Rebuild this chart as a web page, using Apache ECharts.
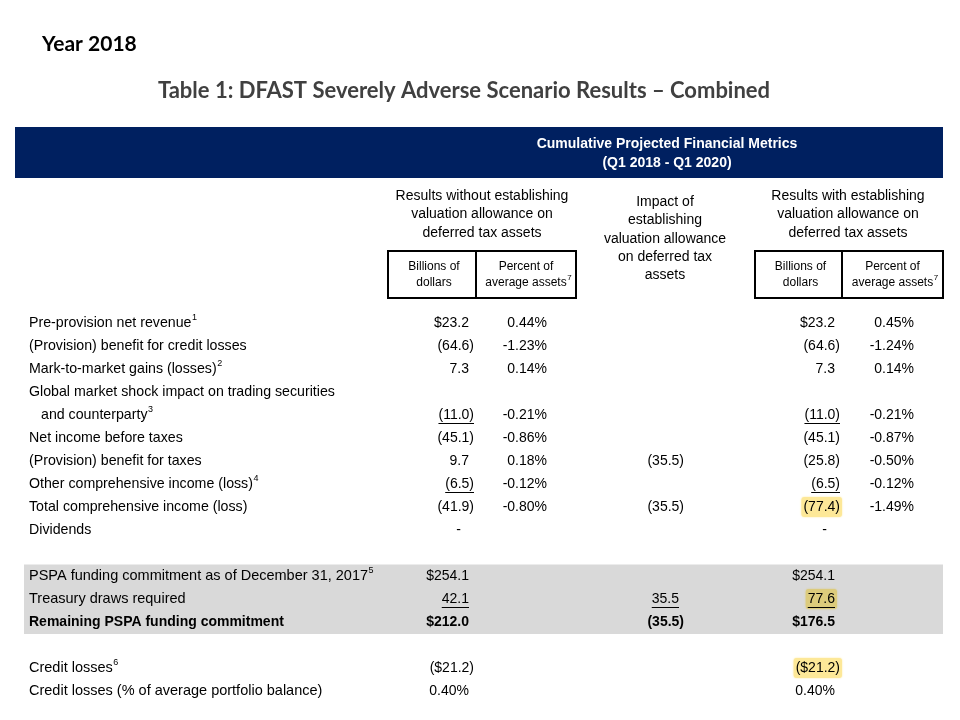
<!DOCTYPE html>
<html><head><meta charset="utf-8">
<script src="https://cdn.jsdelivr.net/npm/echarts@6/dist/echarts.min.js"></script>
<style>html,body{margin:0;padding:0;background:#fff}#c{width:960px;height:720px}</style>
</head><body><div id="c"></div>
<script>
// ---------- texts ----------
const pageTitle = 'Year 2018';
const tableTitle = 'Table 1: DFAST Severely Adverse Scenario Results \u2013 Combined';
const bandTitle = ['Cumulative Projected Financial Metrics', '(Q1 2018 - Q1 2020)'];
const headWithout = ['Results without establishing', 'valuation allowance on', 'deferred tax assets'];
const headImpact = ['Impact of', 'establishing', 'valuation allowance', 'on deferred tax', 'assets'];
const headWith = ['Results with establishing', 'valuation allowance on', 'deferred tax assets'];
const unitBillions = ['Billions of', 'dollars'];
const unitPercent = ['Percent of', 'average assets'];
const unitPercentNote = '7';

// ---------- table data ----------
const rowLabels = [
  'Pre-provision net revenue',
  '(Provision) benefit for credit losses',
  'Mark-to-market gains (losses)',
  'Global market shock impact on trading securities',
  'and counterparty',
  'Net income before taxes',
  '(Provision) benefit for taxes',
  'Other comprehensive income (loss)',
  'Total comprehensive income (loss)',
  'Dividends',
  '',
  'PSPA funding commitment as of December 31, 2017',
  'Treasury draws required',
  'Remaining PSPA funding commitment',
  '',
  'Credit losses',
  'Credit losses (% of average portfolio balance)'
];
const rowNotes = ['1', '', '2', '', '3', '', '', '4', '', '', '', '5', '', '', '', '6', ''];
const billionsWithout = ['$23.2', '(64.6)', '7.3', '', '(11.0)', '(45.1)', '9.7', '(6.5)', '(41.9)', '-', '', '$254.1', '42.1', '$212.0', '', '($21.2)', '0.40%'];
const pctWithout = ['0.44%', '-1.23%', '0.14%', '', '-0.21%', '-0.86%', '0.18%', '-0.12%', '-0.80%', '', '', '', '', '', '', '', ''];
const impactValues = ['', '', '', '', '', '', '(35.5)', '', '(35.5)', '', '', '', '35.5', '(35.5)', '', '', ''];
const billionsWith = ['$23.2', '(64.6)', '7.3', '', '(11.0)', '(45.1)', '(25.8)', '(6.5)', '(77.4)', '-', '', '$254.1', '77.6', '$176.5', '', '($21.2)', '0.40%'];
const pctWith = ['0.45%', '-1.24%', '0.14%', '', '-0.21%', '-0.87%', '-0.50%', '-0.12%', '-1.49%', '', '', '', '', '', '', '', ''];

// ---------- styling sets (not data) ----------
const indentRows = [4];
const boldRows = [13];
const shadedRows = [11, 12, 13];
const underlineCells = { bw: [4, 7, 12], im: [12], bwi: [4, 7, 12] };
const highlightCells = { bwi: [8, 12, 15] };

const FONT = '"Liberation Sans", Arial, sans-serif';
const TITLE_FONT = 'Lato, "Open Sans", sans-serif';
const NAVY = '#002060';
const SHADE = '#d9d9d9';
const HILITE = '#fde898';
const HILITE_SHADED = '#dccb7c';

const cv = document.createElement('canvas').getContext('2d');
function textW(t, size, weight) {
  cv.font = (weight || 'normal') + ' ' + size + 'px ' + FONT;
  return cv.measureText(t).width;
}

const columns = [
  { key: 'bw', data: billionsWithout, right: 469, parenRight: 474 },
  { key: 'pw', data: pctWithout, right: 547, parenRight: 547 },
  { key: 'im', data: impactValues, right: 679, parenRight: 684 },
  { key: 'bwi', data: billionsWith, right: 835, parenRight: 840 },
  { key: 'pwi', data: pctWith, right: 914, parenRight: 914 }
];

function txt(x, y, text, opt) {
  opt = opt || {};
  const size = opt.size || 14;
  return {
    type: 'text', x: x, y: y, z: opt.z || 10,
    style: {
      text: text,
      fill: opt.fill || '#000',
      font: (opt.weight || 'normal') + ' ' + size + 'px ' + (opt.family || FONT),
      align: opt.align || 'left', textAlign: opt.align || 'left',
      verticalAlign: 'middle', textVerticalAlign: 'middle'
    }
  };
}

// ---------- header graphics ----------
const g = [];
g.push(txt(42, 44, pageTitle, { size: 21, weight: 'bold', family: TITLE_FONT }));
g.push(txt(464, 91, tableTitle, { size: 22, weight: 'bold', family: TITLE_FONT, fill: '#404040', align: 'center' }));
g.push({ type: 'rect', shape: { x: 15, y: 127, width: 928, height: 51 }, style: { fill: NAVY }, z: 1 });
bandTitle.forEach((t, i) => g.push(txt(667, 144 + i * 19, t, { weight: 'bold', fill: '#fff', align: 'center' })));
headWithout.forEach((t, i) => g.push(txt(482, 196 + i * 18.5, t, { align: 'center' })));
headImpact.forEach((t, i) => g.push(txt(665, 202 + i * 18.4, t, { align: 'center' })));
headWith.forEach((t, i) => g.push(txt(848, 196 + i * 18.5, t, { align: 'center' })));
[[388, 476, 576], [755, 842, 943]].forEach(b => {
  g.push({ type: 'rect', shape: { x: b[0], y: 251, width: b[2] - b[0], height: 47 }, style: { fill: 'none', stroke: '#000', lineWidth: 2 }, z: 5 });
  g.push({ type: 'line', shape: { x1: b[1], y1: 251, x2: b[1], y2: 298 }, style: { stroke: '#000', lineWidth: 2 }, z: 5 });
  const c1 = (b[0] + b[1]) / 2, c2 = (b[1] + b[2]) / 2;
  unitBillions.forEach((t, i) => g.push(txt(c1 + 2, 267 + i * 16, t, { size: 12, align: 'center' })));
  unitPercent.forEach((t, i) => g.push(txt(c2, 267 + i * 16, t, { size: 12, align: 'center' })));
  const w = textW(unitPercent[1], 12);
  g.push(txt(c2 + w / 2 + 0.5, 278, unitPercentNote, { size: 8, align: 'left' }));
});

// ---------- body through category axis ----------
function renderRow(params, api) {
  const i = api.value(1);
  const y = api.coord([0, i])[1];
  const h = api.size([0, 1])[1];
  const kids = [];
  const shaded = shadedRows.indexOf(i) >= 0;
  if (shaded) {
    kids.push({ type: 'rect', shape: { x: 24, y: y - h / 2, width: 919, height: h + 0.5 }, style: { fill: SHADE }, z2: 0 });
  }
  const isBold = boldRows.indexOf(i) >= 0;
  const bold = isBold ? 'bold' : 'normal';
  const labelSize = isBold ? 14 : (i >= 10 ? 14.5 : 14.2);
  const label = rowLabels[i];
  if (label) {
    const lx = indentRows.indexOf(i) >= 0 ? 41 : 29;
    kids.push(Object.assign(txt(lx, y, label, { weight: bold, size: labelSize }), { z2: 5 }));
    if (rowNotes[i]) {
      const w = textW(label, labelSize, bold);
      kids.push(Object.assign(txt(lx + w + 0.5, y - 5.5, rowNotes[i], { size: 9 }), { z2: 5 }));
    }
  }
  columns.forEach(col => {
    const v = col.data[i];
    if (!v) return;
    let right = /\)$/.test(v) ? col.parenRight : col.right;
    if (v === '-') right = col.right - 8;
    const w = textW(v, 14, bold);
    if ((highlightCells[col.key] || []).indexOf(i) >= 0) {
      const c = shaded ? HILITE_SHADED : HILITE;
      kids.push({ type: 'rect', shape: { x: right - w - 2, y: y - 10, width: w + 4, height: 20, r: 3 },
        style: { fill: c, shadowBlur: 2, shadowColor: c }, z2: 2 });
    }
    kids.push(Object.assign(txt(right, y, v, { weight: bold, align: 'right' }), { z2: 5 }));
    if ((underlineCells[col.key] || []).indexOf(i) >= 0) {
      kids.push({ type: 'line', shape: { x1: right - w, y1: y + 8.5, x2: right, y2: y + 8.5 }, style: { stroke: '#000', lineWidth: 1 }, z2: 5 });
    }
  });
  return { type: 'group', children: kids };
}

const chart = echarts.init(document.getElementById('c'), null, { renderer: 'canvas' });
chart.setOption({
  animation: false,
  backgroundColor: '#fff',
  grid: { left: 0, right: 0, top: 311.5, height: 391 },
  xAxis: { type: 'value', min: 0, max: 960, show: false },
  yAxis: { type: 'category', data: rowLabels.map((l, i) => 'r' + i), inverse: true, show: false },
  graphic: { elements: g },
  series: [{
    type: 'custom',
    renderItem: renderRow,
    data: rowLabels.map((l, i) => [0, i]),
    encode: { x: 0, y: 1 },
    silent: true
  }]
});
</script></body></html>
